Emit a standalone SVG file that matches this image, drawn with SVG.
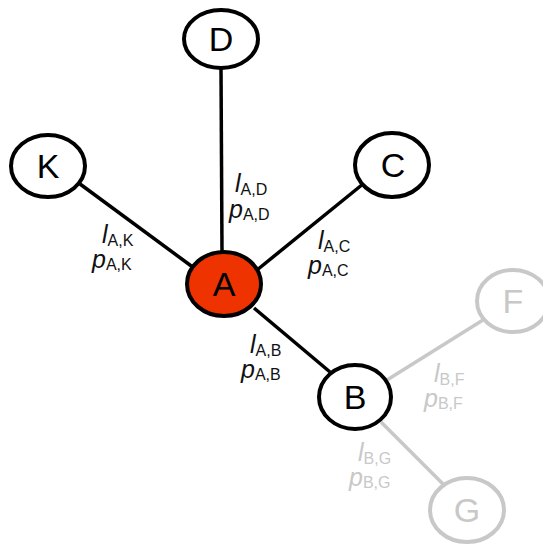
<svg xmlns="http://www.w3.org/2000/svg" width="543" height="547" viewBox="0 0 543 547">
<style>
.n{fill:#fff;stroke:#000;stroke-width:4}
.g .n{stroke:#c8c8c8}
.t{font-family:"Liberation Sans",Arial,sans-serif;font-size:34px;text-anchor:middle;fill:#000}
.g .t{fill:#c8c8c8}
.e{stroke:#000;stroke-width:3.5}
.ge{stroke:#c8c8c8;stroke-width:3.5}
.l{font-family:"Liberation Sans",Arial,sans-serif;font-size:25px;fill:#111}
.gl{fill:#c8c8c8}
.i{font-style:italic}
.s{font-size:16px}
</style>
<rect width="543" height="547" fill="#fff"/>
<g id="connectors">
<line class="e" x1="221" y1="68" x2="222" y2="252"/>
<line class="e" x1="80" y1="184" x2="194" y2="268"/>
<line class="e" x1="363" y1="184" x2="257" y2="270"/>
<line class="e" x1="254" y1="308" x2="330" y2="372"/>
<line class="ge" x1="387" y1="380" x2="483" y2="320"/>
<line class="ge" x1="381" y1="422" x2="443" y2="484"/>
</g>
<g id="labels">
<text class="l" x="235" y="192"><tspan class="i">l</tspan><tspan class="s" dy="3">A,D</tspan></text>
<text class="l" x="229" y="218"><tspan class="i">p</tspan><tspan class="s" dy="2">A,D</tspan></text>
<text class="l" x="102" y="243"><tspan class="i">l</tspan><tspan class="s" dy="3">A,K</tspan></text>
<text class="l" x="92" y="268"><tspan class="i">p</tspan><tspan class="s" dy="2">A,K</tspan></text>
<text class="l" x="318" y="249"><tspan class="i">l</tspan><tspan class="s" dy="3">A,C</tspan></text>
<text class="l" x="308" y="274"><tspan class="i">p</tspan><tspan class="s" dy="2">A,C</tspan></text>
<text class="l" x="250" y="353"><tspan class="i">l</tspan><tspan class="s" dy="3">A,B</tspan></text>
<text class="l" x="241" y="378"><tspan class="i">p</tspan><tspan class="s" dy="2">A,B</tspan></text>
<text class="l gl" x="434" y="382"><tspan class="i">l</tspan><tspan class="s" dy="3">B,F</tspan></text>
<text class="l gl" x="424" y="407"><tspan class="i">p</tspan><tspan class="s" dy="2">B,F</tspan></text>
<text class="l gl" x="358" y="461"><tspan class="i">l</tspan><tspan class="s" dy="3">B,G</tspan></text>
<text class="l gl" x="349" y="486"><tspan class="i">p</tspan><tspan class="s" dy="2">B,G</tspan></text>
</g>
<g id="node-D"><ellipse class="n" cx="221" cy="39" rx="37" ry="29"/><text class="t" x="221" y="51">D</text></g>
<g id="node-K"><ellipse class="n" cx="48" cy="166" rx="37" ry="31"/><text class="t" x="48" y="178">K</text></g>
<g id="node-C"><ellipse class="n" cx="392" cy="165" rx="37" ry="32"/><text class="t" x="393" y="177">C</text></g>
<g id="node-A"><ellipse class="n" cx="224" cy="284" rx="37" ry="32" style="fill:#ee3300"/><text class="t" x="224" y="296">A</text></g>
<g id="node-B"><ellipse class="n" cx="355" cy="397" rx="36" ry="32"/><text class="t" x="355" y="409">B</text></g>
<g id="node-F" class="g"><ellipse class="n" cx="513" cy="301" rx="36" ry="31"/><text class="t" x="513" y="313">F</text></g>
<g id="node-G" class="g"><ellipse class="n" cx="467" cy="510" rx="37" ry="32"/><text class="t" x="467" y="522">G</text></g>
</svg>
